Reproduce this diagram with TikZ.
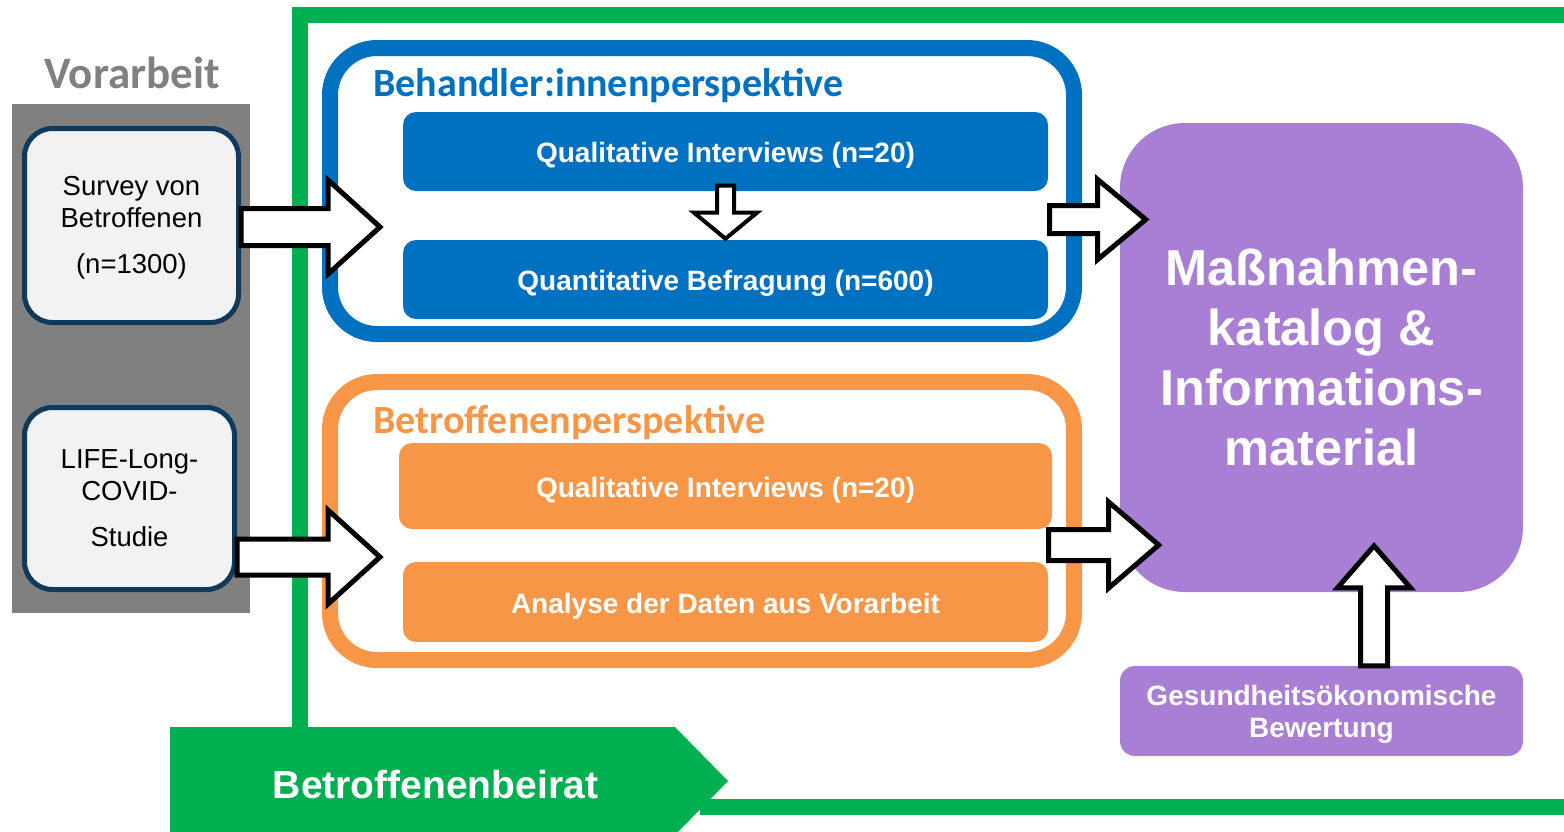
\documentclass[tikz,border=0pt]{standalone}
\usepackage{fontspec}
\setmainfont{Liberation Sans}
\newfontfamily\titlefont{Carlito}
\usepackage{xcolor}
\usepackage{tikz}
\usetikzlibrary{positioning, calc}

\definecolor{beiratgreen}{HTML}{00B050}
\definecolor{behblue}{HTML}{0070C0}
\definecolor{betorange}{HTML}{F79646}
\definecolor{katpurple}{HTML}{A97FD5}
\definecolor{prevnavy}{HTML}{0F3A5C}
\definecolor{prevgray}{HTML}{808080}
\definecolor{prevfill}{HTML}{F2F2F2}

\tikzset{
x=1pt, y=-1pt, % one unit per pixel, y pointing down
prev/.style={draw=prevnavy, line width=5pt, fill=prevfill, rounded corners=28pt, align=center, inner sep=0pt, font=\fontsize{27.5}{32}\selectfont}, % boxes of the Vorarbeit
task/.style={fill=behblue, text=white, rounded corners=13pt, inner sep=0pt, minimum width=645pt, minimum height=79pt, text height=28pt, text depth=6pt, font=\bfseries\fontsize{28}{32}\selectfont}, % work packages
frame/.style={line width=16pt, rounded corners=47pt, inner sep=0pt}, % perspective frames
persp/.style={anchor=base west, inner sep=0pt, font=\titlefont\bfseries\fontsize{40}{44}\selectfont}, % headings
blockarrow/.style={draw=black, fill=white, line width=5pt}, % white block arrows
}

% tail, angle, length, shaft half width, head half width, head length
\newcommand{\blockarr}[7][]{%
  \draw[blockarrow, #1, shift={(#2)}, rotate=#3] (0,#5) -- ({#4-#7},#5) -- ({#4-#7},#6) -- (#4,0) -- ({#4-#7},-#6) -- ({#4-#7},-#5) -- (0,-#5) -- cycle;}

\begin{document}
\begin{tikzpicture}
\useasboundingbox (0,0) rectangle (1564,831);
\clip (0,0) rectangle (1564,831);

% Vorarbeit
\node[fill=prevgray, minimum width=238pt, minimum height=509pt, inner sep=0pt] (prevbg) at (131,358.5) {};
\node[persp, anchor=base, text=prevgray, font=\titlefont\bfseries\fontsize{45}{48}\selectfont] (vorarbeit) at (132,88) {Vorarbeit};
\node[prev, minimum width=214pt, minimum height=194pt] (survey) at (131.5,225.5) {\rule{0pt}{24pt}Survey von\\Betroffenen\\[14pt](n=1300)};
\node[prev, minimum width=210pt, minimum height=182pt] (life) at (129.5,498.5) {LIFE-Long-\\COVID-\\[14pt]Studie};

% Betroffenenbeirat
\draw[beiratgreen, line width=16pt] (300,727) -- (300,14.5) -- (1580,14.5);
\draw[beiratgreen, line width=16pt] (700,807) -- (1580,807);
\fill[beiratgreen] (170,727) -- (675,727) -- (728,781) -- (675,835) -- (170,835) -- cycle;
\node[text=white, font=\bfseries\fontsize{39}{44}\selectfont] (beirat) at (435.5,785) {Betroffenenbeirat};

% Behandler:innen
\node[frame, draw=behblue, minimum width=744pt, minimum height=286pt] (behframe) at (702,191) {};
\node[persp, text=behblue] (behtitle) at (373,96) {Behandler:innenperspektive};
\node[task] (bq1) at (725.5,151.5) {Qualitative Interviews (n=20)};
\node[task] (bq2) at (725.5,279.5) {Quantitative Befragung (n=600)};

% Betroffene
\node[frame, draw=betorange, minimum width=744pt, minimum height=278pt] (betframe) at (702,521) {};
\node[persp, text=betorange] (bettitle) at (373,433) {Betroffenenperspektive};
\node[task, fill=betorange, minimum width=653pt, minimum height=86pt] (oq1) at (725.5,486) {Qualitative Interviews (n=20)};
\node[task, fill=betorange, minimum height=80pt] (oq2) at (725.5,602) {Analyse der Daten aus Vorarbeit};

% Ergebnis
\node[fill=katpurple, rounded corners=65pt, minimum width=403pt, minimum height=469pt, inner sep=0pt, text=white, align=center, font=\bfseries\fontsize{50.5}{60}\selectfont] (katalog) at (1321.5,357.5) {Maßnahmen-\\katalog \&\\Informations-\\material};
\node[fill=katpurple, rounded corners=15pt, minimum width=403pt, minimum height=90pt, inner sep=0pt, text=white, align=center, font=\bfseries\fontsize{28}{32}\selectfont] (bewertung) at (1321.5,711) {\rule{0pt}{26pt}Gesundheitsökonomische\\Bewertung};

% arrows
\coordinate (t1) at ($(survey.east)+(0,1.5)$);
\coordinate (t2) at ($(life.east)+(0,58.5)$);
\coordinate (t3) at ($(bq1.east)!0.5!(bq2.east)+(1.5,4)$);
\coordinate (t4) at ($(oq1.east)!0.5!(oq2.east)+(-1.5,1)$);
\coordinate (t5) at ($(bewertung.north)+(52.5,0)$);
\coordinate (t6) at ($(bq1.south)+(0,-5.5)$);
\blockarr{t1}{0}{139}{18.5}{47}{52}
\blockarr{t2}{0}{143}{18}{47}{52}
\blockarr{t3}{0}{96}{14}{40}{48}
\blockarr{t4}{0}{110}{15.5}{43}{50}
\blockarr{t5}{90}{120}{13.5}{36.5}{42}
\blockarr[line width=4pt]{t6}{-90}{53}{8.5}{31.5}{26}
\end{tikzpicture}
\end{document}
